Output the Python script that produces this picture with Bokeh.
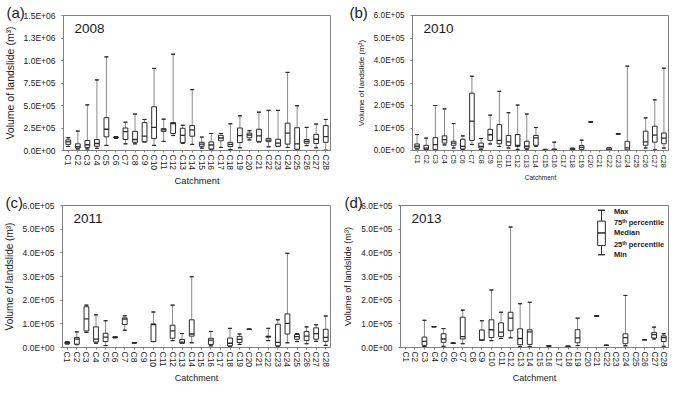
from bokeh.plotting import figure
from bokeh.models import ColumnDataSource, FixedTicker, Label, FactorRange, Range1d, CustomJSTickFormatter, Title
from bokeh.layouts import column, row
from bokeh.embed import file_html
from bokeh.resources import INLINE

FONT = "Liberation Sans"
UNIT = 1e5  # values below are in units of 1e5 m3

catchments = ["C1", "C2", "C3", "C4", "C5", "C6", "C7", "C8", "C9", "C10",
              "C11", "C12", "C13", "C14", "C15", "C16", "C17", "C18", "C19", "C20",
              "C21", "C22", "C23", "C24", "C25", "C26", "C27", "C28"]

# ---- 2008 ----
min_2008 = [0.44, 0.17, 0.17, 0.24, 0.57, 1.35, 0.74, 0.74, 0.95, 0.57, 1.01, 1.66, 0.81, 0.68,
            0.27, 0.07, 0.34, 0.10, 0.30, 1.18, 0.95, 0.41, 0.44, 0.34, 0.07, 0.54, 0.30, 0.03]
q1_2008 = [0.68, 0.27, 0.34, 0.47, 1.52, 1.40, 1.22, 0.91, 0.98, 1.32, 2.13, 1.89, 0.88, 1.59,
           0.47, 0.17, 1.08, 0.44, 0.88, 1.42, 1.01, 0.98, 0.47, 0.71, 0.14, 0.81, 0.78, 0.91]
med_2008 = [0.95, 0.44, 0.64, 0.78, 2.36, 1.45, 2.10, 1.22, 1.59, 2.57, 2.30, 3.00, 1.69, 2.30,
            0.71, 0.61, 1.39, 0.68, 1.66, 1.72, 1.62, 1.15, 0.81, 1.93, 0.74, 1.01, 1.25, 1.55]
q3_2008 = [1.18, 0.74, 1.11, 1.22, 3.65, 1.50, 2.50, 2.13, 3.10, 4.86, 2.43, 3.10, 2.47, 2.77,
           0.91, 0.95, 1.69, 0.91, 2.50, 1.93, 2.36, 1.35, 1.25, 3.04, 2.53, 1.22, 1.79, 2.77]
max_2008 = [1.42, 2.16, 5.07, 7.84, 10.4, 1.55, 3.14, 4.05, 3.45, 9.12, 3.48, 10.7, 2.80, 6.76,
            1.49, 1.89, 1.89, 2.97, 3.85, 2.20, 4.26, 4.46, 4.46, 8.68, 4.97, 2.57, 2.94, 3.45]

# ---- 2010 ----
min_2010 = [0.07, 0.03, 0.03, 0.25, 0.11, 0.05, 0.27, 0.04, 0.29, 0.18, 0.11, 0.05, 0.05, 0.19,
            0.00, 0.00, None, 0.01, 0.03, 1.27, None, 0.00, 0.74, 0.00, None, 0.11, 0.03, 0.11]
q1_2010 = [0.10, 0.05, 0.05, 0.33, 0.23, 0.07, 0.45, 0.11, 0.45, 0.30, 0.22, 0.18, 0.10, 0.23,
           0.01, 0.01, None, 0.03, 0.05, 1.27, None, 0.01, 0.74, 0.03, None, 0.23, 0.37, 0.30]
med_2010 = [0.19, 0.11, 0.26, 0.48, 0.33, 0.18, 1.31, 0.18, 0.70, 0.45, 0.38, 0.23, 0.19, 0.56,
            0.02, 0.03, None, 0.06, 0.14, 1.27, None, 0.06, 0.74, 0.12, None, 0.38, 0.68, 0.55]
q3_2010 = [0.29, 0.23, 0.57, 0.65, 0.41, 0.50, 2.55, 0.33, 0.94, 1.15, 0.67, 0.71, 0.41, 0.67,
           0.04, 0.07, None, 0.10, 0.22, 1.27, None, 0.12, 0.74, 0.41, None, 0.86, 1.08, 0.78]
max_2010 = [0.71, 0.55, 2.00, 1.85, 1.20, 0.65, 3.30, 0.53, 1.57, 2.63, 1.68, 2.02, 1.62, 1.02,
            0.05, 0.37, None, 0.10, 0.46, 1.27, None, 0.12, 0.74, 3.75, None, 1.45, 2.25, 3.66]

# ---- 2011 ----
min_2011 = [0.15, 0.12, 0.64, 0.18, 0.08, 0.41, 0.73, 0.20, None, 0.25, None, 0.29, 0.18, 0.20,
            None, 0.07, None, 0.03, 0.13, 0.77, None, 0.29, 0.03, 0.20, 0.25, 0.16, 0.26, 0.09]
q1_2011 = [0.16, 0.14, 0.70, 0.23, 0.25, 0.42, 0.97, 0.20, None, 0.25, None, 0.39, 0.18, 0.48,
           None, 0.13, None, 0.07, 0.21, 0.77, None, 0.44, 0.07, 0.57, 0.35, 0.29, 0.35, 0.26]
med_2011 = [0.20, 0.35, 1.21, 0.35, 0.44, 0.43, 1.20, 0.20, None, 0.97, None, 0.70, 0.23, 0.57,
            None, 0.31, None, 0.18, 0.34, 0.77, None, 0.46, 0.22, 1.02, 0.46, 0.48, 0.59, 0.43]
q3_2011 = [0.23, 0.42, 1.72, 0.87, 0.60, 0.45, 1.25, 0.20, None, 1.00, None, 0.94, 0.34, 1.17,
           None, 0.39, None, 0.40, 0.47, 0.77, None, 0.48, 0.98, 1.42, 0.55, 0.68, 0.83, 0.77]
max_2011 = [0.24, 0.66, 1.79, 1.38, 1.13, 0.46, 1.34, 0.20, None, 1.50, None, 1.79, 0.59, 2.99,
            None, 0.68, None, 0.81, 0.57, 0.77, None, 0.81, 1.17, 3.98, 0.59, 0.87, 0.96, 1.33]

# ---- 2013 ----
min_2013 = [None, None, 0.04, 0.88, 0.05, 0.18, 0.16, None, 0.30, 0.29, 0.38, 0.41, 0.04, 0.04,
            None, 0.07, None, 0.05, 0.08, None, 1.33, 0.09, None, 0.07, None, 0.33, 0.36, 0.05]
q1_2013 = [None, None, 0.09, 0.88, 0.22, 0.18, 0.36, None, 0.30, 0.42, 0.46, 0.71, 0.12, 0.13,
           None, 0.07, None, 0.05, 0.20, None, 1.33, 0.09, None, 0.16, None, 0.33, 0.40, 0.25]
med_2013 = [None, None, 0.26, 0.88, 0.36, 0.18, 0.46, None, 0.32, 0.75, 0.65, 1.24, 0.38, 0.66,
            None, 0.07, None, 0.05, 0.41, None, 1.33, 0.09, None, 0.42, None, 0.33, 0.54, 0.42]
q3_2013 = [None, None, 0.44, 0.88, 0.58, 0.18, 1.28, None, 0.74, 1.17, 1.04, 1.49, 0.79, 0.75,
           None, 0.07, None, 0.05, 0.75, None, 1.33, 0.09, None, 0.58, None, 0.33, 0.63, 0.49]
max_2013 = [None, None, 1.15, 0.88, 0.80, 0.18, 1.58, None, 1.13, 2.43, 1.49, 5.09, 1.85, 1.91,
            None, 0.07, None, 0.05, 1.24, None, 1.33, 0.09, None, 2.20, None, 0.33, 0.86, 0.58]

ticks_a = [0, 250000, 500000, 750000, 1000000, 1250000, 1500000]
labels_a = ["0.0E+00", "2.5E+05", "5.0E+05", "7.5E+05", "1.0E+06", "1.3E+06", "1.5E+06"]
ticks_b = [0, 100000, 200000, 300000, 400000, 500000, 600000]
labels_b = ["0.0E+00", "1.0E+05", "2.0E+05", "3.0E+05", "4.0E+05", "5.0E+05", "6.0E+05"]

# legend key (panel d): max, q3, median, q1, min (units of 1e5)
legend_stats = [5.80, 5.34, 4.84, 4.31, 3.92]
legend_texts = ["Max", "75ᵗʰ percentile", "Median", "25ᵗʰ percentile", "Min"]
legend_text_y = [5.74, 5.28, 4.84, 4.37, 3.92]

WHISK = "#8a8a8a"
BOXC = "#2b2b2b"
FRAME = "#808080"
TXT = "#1a1a1a"


def make_panel(letter, year, stats, ymax, ticks, labels, w, h, bl, br, bt, bb, fonts,
               letter_offset, legend=False):
    ytick_fs, xtick_fs, ytitle_fs, xtitle_fs = fonts
    p = figure(x_range=FactorRange(factors=catchments, range_padding=0, factor_padding=0),
               y_range=Range1d(0, ymax), width=w, height=h,
               output_backend="svg", toolbar_location=None,
               min_border_left=bl, min_border_right=br, min_border_top=bt, min_border_bottom=bb)
    mn, q1, md, q3, mx = stats
    keep = [i for i in range(len(catchments)) if md[i] is not None]
    src = ColumnDataSource(dict(
        cat=[catchments[i] for i in keep],
        mn=[mn[i] * UNIT for i in keep],
        q1=[q1[i] * UNIT for i in keep],
        md=[md[i] * UNIT for i in keep],
        q3=[q3[i] * UNIT for i in keep],
        mx=[mx[i] * UNIT for i in keep],
    ))
    p.segment(x0="cat", y0="q3", x1="cat", y1="mx", source=src, line_color=WHISK, line_width=1)
    p.segment(x0="cat", y0="mn", x1="cat", y1="q1", source=src, line_color=WHISK, line_width=1)
    p.vbar(x="cat", top="mx", bottom="mx", width=0.4, source=src, fill_alpha=0,
           line_color=BOXC, line_width=1)
    p.vbar(x="cat", top="mn", bottom="mn", width=0.4, source=src, fill_alpha=0,
           line_color=BOXC, line_width=1)
    p.vbar(x="cat", top="q3", bottom="q1", width=0.5, source=src, fill_color="white",
           line_color=BOXC, line_width=1)
    p.vbar(x="cat", top="md", bottom="md", width=0.5, source=src, fill_alpha=0,
           line_color=BOXC, line_width=1.3)

    p.xgrid.visible = False
    p.ygrid.visible = False
    p.outline_line_color = FRAME
    p.outline_line_width = 1

    p.yaxis.ticker = FixedTicker(ticks=ticks, minor_ticks=[])
    p.yaxis.formatter = CustomJSTickFormatter(args=dict(tvals=ticks, tlabels=labels), code="""
        const i = tvals.indexOf(tick);
        return i >= 0 ? tlabels[i] : '';
    """)
    for ax in (p.xaxis[0], p.yaxis[0]):
        ax.axis_line_color = FRAME
        ax.major_tick_line_color = FRAME
        ax.minor_tick_line_color = None
        ax.major_tick_out = 2
        ax.major_tick_in = 0
        ax.major_label_text_font = FONT
        ax.major_label_text_color = TXT
        ax.axis_label_text_font = FONT
        ax.axis_label_text_font_style = "normal"
        ax.axis_label_text_color = TXT
    p.yaxis.major_label_text_font_size = f"{ytick_fs}px"
    p.xaxis.major_label_text_font_size = f"{xtick_fs}px"
    p.yaxis.axis_label = "Volume of landslide (m³)"
    p.yaxis.axis_label_text_font_size = f"{ytitle_fs}px"
    p.yaxis.major_label_standoff = 6
    p.yaxis.axis_label_standoff = 5
    p.xaxis.axis_label = "Catchment"
    p.xaxis.axis_label_text_font_size = f"{xtitle_fs}px"
    p.xaxis.major_label_orientation = "vertical"
    p.xaxis.major_label_standoff = 2
    p.xaxis.axis_label_standoff = 3

    p.add_layout(Title(text=letter, align="left", offset=letter_offset, standoff=-11,
                       text_font=FONT, text_font_size="15px", text_font_style="normal",
                       text_color=TXT), "above")
    p.add_layout(Label(x=0, y=ymax, x_offset=11, y_offset=-8, text=year,
                       text_font=FONT, text_font_size="13.5px", text_color=TXT,
                       text_baseline="top", text_align="left"))

    if legend:
        LX = 21.0
        TX = 22.3
        lmx, lq3, lmd, lq1, lmn = [v * UNIT for v in legend_stats]
        lsrc = ColumnDataSource(dict(x=[LX], mx=[lmx], q3=[lq3], md=[lmd], q1=[lq1], mn=[lmn]))
        p.segment(x0="x", y0="q3", x1="x", y1="mx", source=lsrc, line_color=BOXC, line_width=1)
        p.segment(x0="x", y0="mn", x1="x", y1="q1", source=lsrc, line_color=BOXC, line_width=1)
        p.vbar(x="x", top="mx", bottom="mx", width=0.7, source=lsrc, fill_alpha=0, line_color=BOXC)
        p.vbar(x="x", top="mn", bottom="mn", width=0.7, source=lsrc, fill_alpha=0, line_color=BOXC)
        p.vbar(x="x", top="q3", bottom="q1", width=0.8, source=lsrc, fill_color="white",
               line_color=BOXC)
        p.vbar(x="x", top="md", bottom="md", width=0.8, source=lsrc, fill_alpha=0, line_color=BOXC)
        for t, ty in zip(legend_texts, legend_text_y):
            p.add_layout(Label(x=TX, y=ty * UNIT, text=t, text_font=FONT, text_font_size="7.5px",
                               text_font_style="bold", text_color=TXT,
                               text_baseline="middle", text_align="left"))
    return p


pa = make_panel("(a)", "2008", (min_2008, q1_2008, med_2008, q3_2008, max_2008), 1500000,
                ticks_a, labels_a, 338, 190, 58, 8, 15, 40, (8.5, 8.5, 10.5, 9.3), -57)
pb = make_panel("(b)", "2010", (min_2010, q1_2010, med_2010, q3_2010, max_2010), 600000,
                ticks_b, labels_b, 331, 190, 74, 1, 15, 40, (8.2, 7.3, 8, 6.5), -63)
pc = make_panel("(c)", "2011", (min_2011, q1_2011, med_2011, q3_2011, max_2011), 600000,
                ticks_b, labels_b, 338, 197, 58, 8, 15, 40, (8.5, 8.5, 10, 9), -57)
pd_ = make_panel("(d)", "2013", (min_2013, q1_2013, med_2013, q3_2013, max_2013), 600000,
                 ticks_b, labels_b, 331, 197, 62, 1, 15, 40, (8.3, 8.2, 9.2, 9), -56,
                 legend=True)

layout = column(row(pa, pb), row(pc, pd_))
open("out.html", "w").write(file_html(layout, INLINE))
